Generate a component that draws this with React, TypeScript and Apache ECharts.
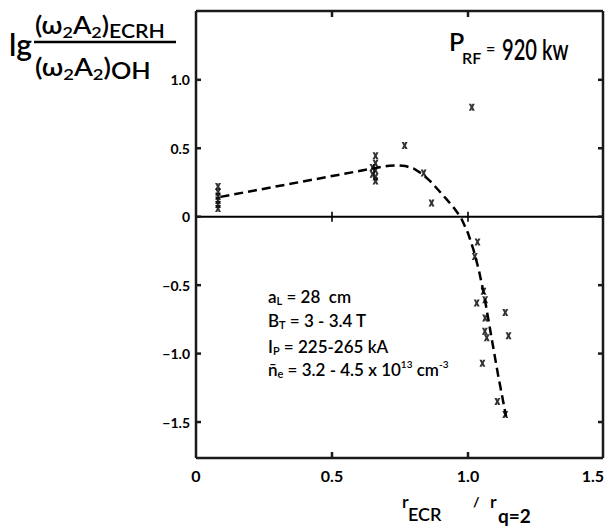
import React, { useEffect, useRef } from "react";
import * as echarts from "echarts";

// ---- data ----
const xMin = 0;
const xMax = 1.5;
const yMin = -1.77;
const yMax = 1.51;
const xTickValues = [0, 0.5, 1.0, 1.5];
const yTickValues = [-1.5, -1.0, -0.5, 0, 0.5, 1.0];
const innerXTickValues = [0.5, 1.0];

// measured points (x = r_ECR / r_q=2, y = lg ratio)
const pointsLowCluster = [
  [0.081, 0.22], [0.081, 0.18], [0.081, 0.15], [0.081, 0.12], [0.081, 0.09], [0.081, 0.06],
];
const pointsMidCluster = [
  [0.66, 0.445], [0.66, 0.39], [0.66, 0.34], [0.66, 0.29], [0.66, 0.26],
  [0.649, 0.36], [0.649, 0.31],
];
const pointsPeak = [
  [0.767, 0.52], [0.837, 0.32], [0.866, 0.10], [1.014, 0.80],
];
const pointsDrop = [
  [1.035, -0.185], [1.025, -0.29], [1.057, -0.545], [1.063, -0.606], [1.032, -0.63],
  [1.137, -0.70], [1.063, -0.74], [1.062, -0.837], [1.069, -0.885], [1.149, -0.87],
  [1.053, -1.07], [1.108, -1.35], [1.137, -1.445],
];
// dashed guide curve drawn in the figure
const fitCurve = [
  [0.09, 0.145], [0.63, 0.345], [0.67, 0.36], [0.71, 0.372], [0.74, 0.375],
  [0.77, 0.37], [0.80, 0.352], [0.83, 0.315], [0.86, 0.262], [0.89, 0.197],
  [0.92, 0.13], [0.95, 0.06], [0.975, -0.01], [1.0, -0.12], [1.02, -0.24],
  [1.04, -0.39], [1.06, -0.58], [1.08, -0.81], [1.11, -1.15], [1.14, -1.46],
];

const FONT = "Lato";
const XMARK = "path://M0,0L4,0L5,2.5L6,0L10,0L7,5L10,10L6,10L5,7.5L4,10L0,10L3,5Z";

function textGraphics(): any[] {
  const subRich = (mainSize: number, subSize: number, subLH: number) => ({
    m: { fontFamily: FONT, fontSize: mainSize, fontWeight: 600, lineHeight: 20, verticalAlign: "middle" },
    s: { fontFamily: FONT, fontSize: subSize, fontWeight: 600, lineHeight: subLH, verticalAlign: "bottom" },
    u: { fontFamily: FONT, fontSize: 10, fontWeight: 600, lineHeight: 12, verticalAlign: "top" },
  });
  return [
    { type: "text", x: 9, y: 44, style: { text: "lg", font: `600 30px ${FONT}`, fill: "#000", verticalAlign: "middle" } },
    {
      type: "text", x: 35, y: 25, scaleX: 1.12,
      style: {
        text: "{p|(\u03C9}{s|2}{p|A}{s|2}{p|)}{b|ECRH}",
        verticalAlign: "middle", fill: "#000",
        rich: {
          p: { fontFamily: FONT, fontSize: 24, fontWeight: 600, lineHeight: 30, verticalAlign: "middle" },
          s: { fontFamily: FONT, fontSize: 16, fontWeight: 600, lineHeight: 18, verticalAlign: "bottom" },
          b: { fontFamily: FONT, fontSize: 19, fontWeight: 600, lineHeight: 17, verticalAlign: "bottom" },
        },
      },
    },
    { type: "line", shape: { x1: 34, y1: 42, x2: 176, y2: 42 }, style: { stroke: "#000", lineWidth: 2.5 } },
    {
      type: "text", x: 35, y: 67, scaleX: 1.15,
      style: {
        text: "{p|(\u03C9}{s|2}{p|A}{s|2}{p|)}{b|OH}",
        verticalAlign: "middle", fill: "#000",
        rich: {
          p: { fontFamily: FONT, fontSize: 24, fontWeight: 600, lineHeight: 30, verticalAlign: "middle" },
          s: { fontFamily: FONT, fontSize: 16, fontWeight: 600, lineHeight: 18, verticalAlign: "bottom" },
          b: { fontFamily: FONT, fontSize: 22, fontWeight: 600, lineHeight: 14, verticalAlign: "bottom" },
        },
      },
    },
    { type: "text", x: 449, y: 41, style: { text: "P", font: `600 25px ${FONT}`, fill: "#000", verticalAlign: "middle" } },
    { type: "text", x: 462, y: 57, style: { text: "RF", font: `600 16px ${FONT}`, fill: "#000", verticalAlign: "middle" } },
    { type: "text", x: 486, y: 47, style: { text: "=", font: `bold 16px ${FONT}`, fill: "#000", verticalAlign: "middle" } },
    { type: "text", x: 502, y: 49, scaleX: 0.72, style: { text: "920 kw", font: `600 28px ${FONT}`, fill: "#000", verticalAlign: "middle" } },
    { type: "text", x: 268, y: 296, style: { text: "{m|a}{s|L}{m| = 28  cm}", verticalAlign: "middle", fill: "#000", rich: subRich(17, 11, 12) } },
    { type: "text", x: 268, y: 320, style: { text: "{m|B}{s|T}{m| = 3 - 3.4 T}", verticalAlign: "middle", fill: "#000", rich: subRich(17, 11, 12) } },
    { type: "text", x: 268, y: 346, style: { text: "{m|I}{s|P}{m| = 225-265 kA}", verticalAlign: "middle", fill: "#000", rich: subRich(17, 11, 12) } },
    {
      type: "text", x: 268, y: 369,
      style: { text: "{m|n\u0304}{s|e}{m| = 3.2 - 4.5 x 10}{u|13}{m| cm}{u|-3}", verticalAlign: "middle", fill: "#000", rich: subRich(17, 11, 12) },
    },
    { type: "text", x: 402, y: 501, style: { text: "r", font: `600 18px ${FONT}`, fill: "#000", verticalAlign: "middle" } },
    { type: "text", x: 408, y: 514, style: { text: "ECR", font: `600 18px ${FONT}`, fill: "#000", verticalAlign: "middle" } },
    { type: "text", x: 473, y: 501, style: { text: "/", font: `bold 14px ${FONT}`, fill: "#000", verticalAlign: "middle" } },
    { type: "text", x: 490, y: 501, style: { text: "r", font: `600 18px ${FONT}`, fill: "#000", verticalAlign: "middle" } },
    { type: "text", x: 498, y: 515, style: { text: "q=2", font: `bold 19px ${FONT}`, fill: "#000", verticalAlign: "middle" } },
  ];
}

export default function App() {
  const ref = useRef<HTMLDivElement>(null);
  useEffect(() => {
    if (!ref.current) return;
    const chart = echarts.init(ref.current, undefined, { renderer: "svg" });
    const allPoints = [...pointsLowCluster, ...pointsMidCluster, ...pointsPeak, ...pointsDrop];
    const fmt = (v: number) => (v === 0 ? "0" : v.toFixed(1));
    chart.setOption({
      animation: false,
      backgroundColor: "#fff",
      grid: { left: 196, right: 2, top: 10, bottom: 72, outerBoundsMode: "none" },
      xAxis: {
        type: "value", min: xMin, max: xMax, interval: 0.5, position: "bottom",
        axisLine: { show: false },
        splitLine: { show: false },
        axisTick: { show: false },
        axisLabel: {
          show: true, customValues: xTickValues, formatter: fmt, margin: 8,
          hideOverlap: false, alignMaxLabel: "right",
          color: "#000", fontFamily: FONT, fontWeight: "bold", fontSize: 16,
        },
      },
      yAxis: {
        type: "value", min: yMin, max: yMax, position: "left",
        axisLine: { show: false }, splitLine: { show: false },
        axisTick: { show: false },
        axisLabel: {
          show: true, customValues: yTickValues, formatter: (v: number) => fmt(v).replace("-", "\u2212"), margin: 6,
          color: "#000", fontFamily: FONT, fontWeight: "bold", fontSize: 14,
        },
      },
      series: [
        {
          type: "line",
          data: [[xMin, 0], [xMax, 0]],
          symbol: "none",
          lineStyle: { color: "#000", width: 2 },
          clip: false,
          silent: true,
          z: 1,
        },
        {
          type: "scatter",
          data: innerXTickValues.map((v) => [v, 0]),
          symbol: "rect",
          symbolSize: [2, 10],
          itemStyle: { color: "#000" },
          clip: false,
          silent: true,
          z: 2,
        },
        {
          type: "line",
          data: fitCurve,
          symbol: "none",
          smooth: false,
          lineStyle: { color: "#000", width: 2.5, type: [9, 5] },
          clip: false,
          silent: true,
          z: 3,
        },
        {
          type: "scatter",
          data: allPoints,
          symbol: XMARK,
          symbolSize: [6, 7],
          itemStyle: { color: "#000" },
          clip: false,
          silent: true,
          z: 4,
        },
      ],
      graphic: textGraphics(),
    });

    // frame and edge ticks placed through the chart's own scales
    const px = (x: number, y: number) => chart.convertToPixel({ gridIndex: 0 }, [x, y]) as number[];
    const [left, bottom0] = px(xMin, yMin);
    const [right0, top0] = px(xMax, yMax);
    const top = top0 + 1;
    const right = right0 - 1;
    const bottom = bottom0 - 1;
    const stroke = { stroke: "#1a1a1a", lineWidth: 2.5 };
    const frame: any[] = [
      { type: "line", z: 100, shape: { x1: left, y1: top, x2: right, y2: top }, style: stroke },
      { type: "line", z: 100, shape: { x1: right, y1: top, x2: right, y2: bottom }, style: stroke },
      { type: "line", z: 100, shape: { x1: left, y1: bottom, x2: right, y2: bottom }, style: stroke },
      { type: "line", z: 100, shape: { x1: left, y1: top, x2: left, y2: bottom }, style: stroke },
    ];
    yTickValues.forEach((v) => {
      const y = px(xMin, v)[1];
      frame.push({ type: "line", z: 100, shape: { x1: left, y1: y, x2: left + 5, y2: y }, style: stroke });
      frame.push({ type: "line", z: 100, shape: { x1: right - 5, y1: y, x2: right, y2: y }, style: stroke });
    });
    innerXTickValues.forEach((v) => {
      const x = px(v, 0)[0];
      frame.push({ type: "line", z: 100, shape: { x1: x, y1: bottom, x2: x, y2: bottom - 6 }, style: stroke });
      frame.push({ type: "line", z: 100, shape: { x1: x, y1: top, x2: x, y2: top + 6 }, style: stroke });
    });
    chart.setOption({ graphic: [...textGraphics(), ...frame] });
    return () => chart.dispose();
  }, []);
  return (
    <div
      ref={ref}
      style={{ position: "fixed", left: 0, top: 0, width: 606, height: 531, background: "#fff" }}
    />
  );
}
